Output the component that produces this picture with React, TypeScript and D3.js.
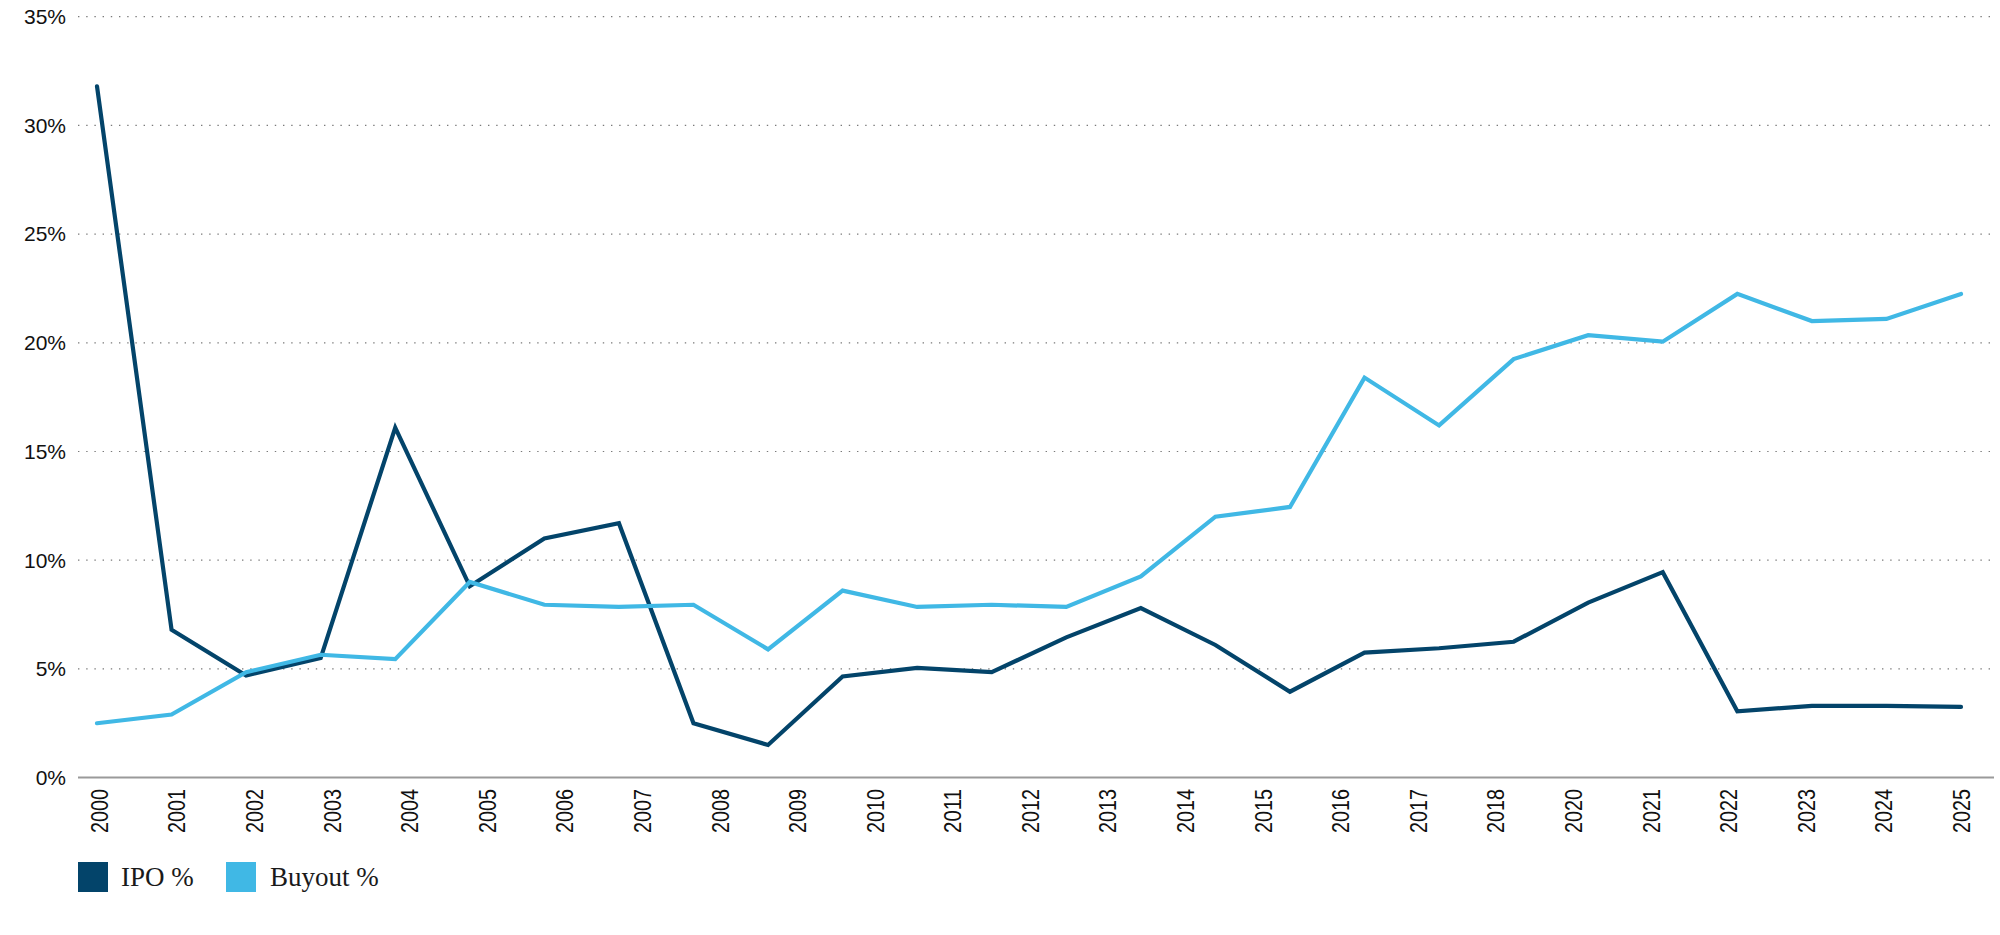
import React from "react";
import * as d3 from "d3";

// Axis labels shown under the chart
const axisLabels = [
  "2000", "2001", "2002", "2003", "2004", "2005", "2006", "2007", "2008",
  "2009", "2010", "2011", "2012", "2013", "2014", "2015", "2016", "2017",
  "2018", "2020", "2021", "2022", "2023", "2024", "2025",
];

// Observation periods of the two series
const periods = [
  2000, 2001, 2002, 2003, 2004, 2005, 2006, 2007, 2008, 2009, 2010, 2011, 2012,
  2013, 2014, 2015, 2016, 2017, 2018, 2019, 2020, 2021, 2022, 2023, 2024, 2025,
];

const ipoPct = [
  31.8, 6.8, 4.7, 5.5, 16.1, 8.8, 11.0, 11.7, 2.5, 1.5, 4.65, 5.05, 4.85,
  6.45, 7.8, 6.1, 3.95, 5.75, 5.95, 6.25, 8.05, 9.45, 3.05, 3.3, 3.3, 3.25,
];

const buyoutPct = [
  2.5, 2.9, 4.85, 5.65, 5.45, 9.0, 7.95, 7.85, 7.95, 5.9, 8.6, 7.85, 7.95,
  7.85, 9.25, 12.0, 12.45, 18.4, 16.2, 19.25, 20.35, 20.05, 22.25, 21.0, 21.1, 22.25,
];

const yTicks = [0, 5, 10, 15, 20, 25, 30, 35];

const seriesNames = ["IPO %", "Buyout %"];
const seriesColors = ["#03446A", "#40B8E5"];

const W = 2000;
const H = 935;
const plotLeft = 78;
const plotRight = 1994;
const plotTop = 16.7;
const plotBottom = 777.6;

export default function App() {
  const y = d3.scaleLinear().domain([0, 35]).range([plotBottom, plotTop]);
  const xData = d3.scalePoint<number>().domain(periods).range([97, 1961]);
  const xLabel = d3.scalePoint<string>().domain(axisLabels).range([99.5, 1961.5]);

  const line = d3
    .line<number>()
    .x((_, i) => xData(periods[i]) as number)
    .y((d) => y(d));

  const series = [ipoPct, buyoutPct];
  const sans = "'Liberation Sans', Arial, sans-serif";
  const serif = "'Liberation Serif', 'Times New Roman', serif";

  return (
    <svg
      width={W}
      height={H}
      style={{ position: "absolute", left: 0, top: 0, background: "#fff" }}
    >
      {/* horizontal grid */}
      {yTicks
        .filter((t) => t > 0)
        .map((t) => (
          <line
            key={t}
            x1={plotLeft}
            x2={plotRight}
            y1={y(t)}
            y2={y(t)}
            stroke="#7a7a7a"
            strokeWidth={1.2}
            strokeDasharray="1.4 6.8"
          />
        ))}
      {/* baseline */}
      <line
        x1={plotLeft}
        x2={plotRight}
        y1={y(0)}
        y2={y(0)}
        stroke="#9a9a9a"
        strokeWidth={2}
      />
      {/* y tick labels */}
      {yTicks.map((t) => (
        <text
          key={t}
          x={66}
          y={y(t)}
          dy="0.35em"
          textAnchor="end"
          fontFamily={sans}
          fontSize={21}
          fill="#111"
        >
          {`${t}%`}
        </text>
      ))}
      {/* x tick labels (condensed) */}
      {axisLabels.map((l) => {
        const cx = xLabel(l) as number;
        return (
          <text
            key={l}
            transform={`translate(${cx},789) rotate(-90)`}
            dy="0.35em"
            textAnchor="end"
            fontFamily={sans}
            fontSize={24}
            textLength={44}
            lengthAdjust="spacingAndGlyphs"
            fill="#111"
          >
            {l}
          </text>
        );
      })}
      {/* series lines */}
      {series.map((vals, i) => (
        <path
          key={seriesNames[i]}
          d={line(vals) || ""}
          fill="none"
          stroke={seriesColors[i]}
          strokeWidth={4.2}
          strokeLinejoin="miter"
          strokeLinecap="round"
        />
      ))}
      {/* legend */}
      <g>
        <rect x={78} y={862} width={30} height={30} fill={seriesColors[0]} />
        <text x={121} y={886} fontFamily={serif} fontSize={27} fill="#1a1a1a">
          {seriesNames[0]}
        </text>
        <rect x={226} y={862} width={30} height={30} fill={seriesColors[1]} />
        <text x={270} y={886} fontFamily={serif} fontSize={27} fill="#1a1a1a">
          {seriesNames[1]}
        </text>
      </g>
    </svg>
  );
}
